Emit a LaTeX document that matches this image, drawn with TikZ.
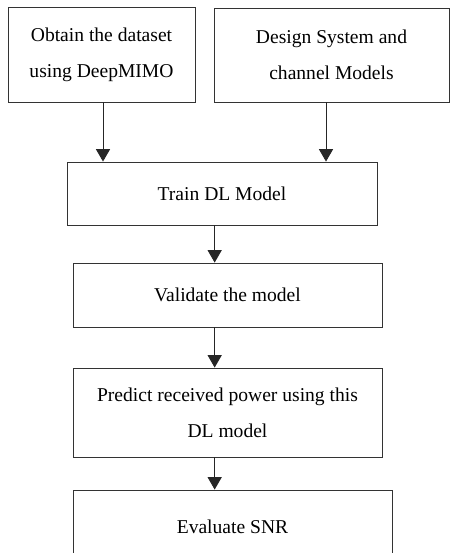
\documentclass[tikz,border=0pt]{standalone}
\usepackage{fontspec}
\setmainfont{Liberation Serif}
\usepackage{tikz}
\usetikzlibrary{arrows.meta}
\tikzset{
    mybox/.style = {rectangle, draw=black!80, line width=0.75pt, align=center, fill=white, inner sep=0pt},
    edgea/.style = {-{Triangle[width=0.42cm,length=0.37cm]}, line width=0.75pt, black!85},
}

\begin{document}
\begin{tikzpicture}[
	font=\fontsize{16.7}{31}\selectfont
]
\useasboundingbox (0,0) rectangle (13.5,16.59);
% inputs
\node[mybox, minimum width=5.61cm, minimum height=2.85cm] at (3.045,14.955) (obtain) {Obtain the dataset\\using DeepMIMO};
\node[mybox, minimum width=7.05cm, minimum height=2.82cm] at (9.945,14.94) (design) {Design System and\\channel Models};
% main chain
\node[mybox, minimum width=9.3cm, minimum height=1.89cm] at (6.66,10.785) (train) {Train DL Model};
\node[mybox, minimum width=9.27cm, minimum height=1.92cm] at (6.825,7.74) (valid) {Validate the model};
\node[mybox, minimum width=9.27cm, minimum height=2.67cm] at (6.825,4.215) (predict) {Predict received power using this\\DL model};
\node[mybox, minimum width=9.57cm, minimum height=2.22cm] at (6.975,0.78) (snr) {Evaluate SNR};
\coordinate (axis) at (6.44,0);
%
\draw[edgea] ([xshift=0.45mm]obtain.south) -- ([xshift=0.45mm]obtain.south |- train.north);
\draw[edgea] ([xshift=-1.65mm]design.south) -- ([xshift=-1.65mm]design.south |- train.north);
%
\draw[edgea] (train.south -| axis) -- (valid.north -| axis);
\draw[edgea] (valid.south -| axis) -- (predict.north -| axis);
\draw[edgea] (predict.south -| axis) -- (snr.north -| axis);
\end{tikzpicture}
\end{document}
